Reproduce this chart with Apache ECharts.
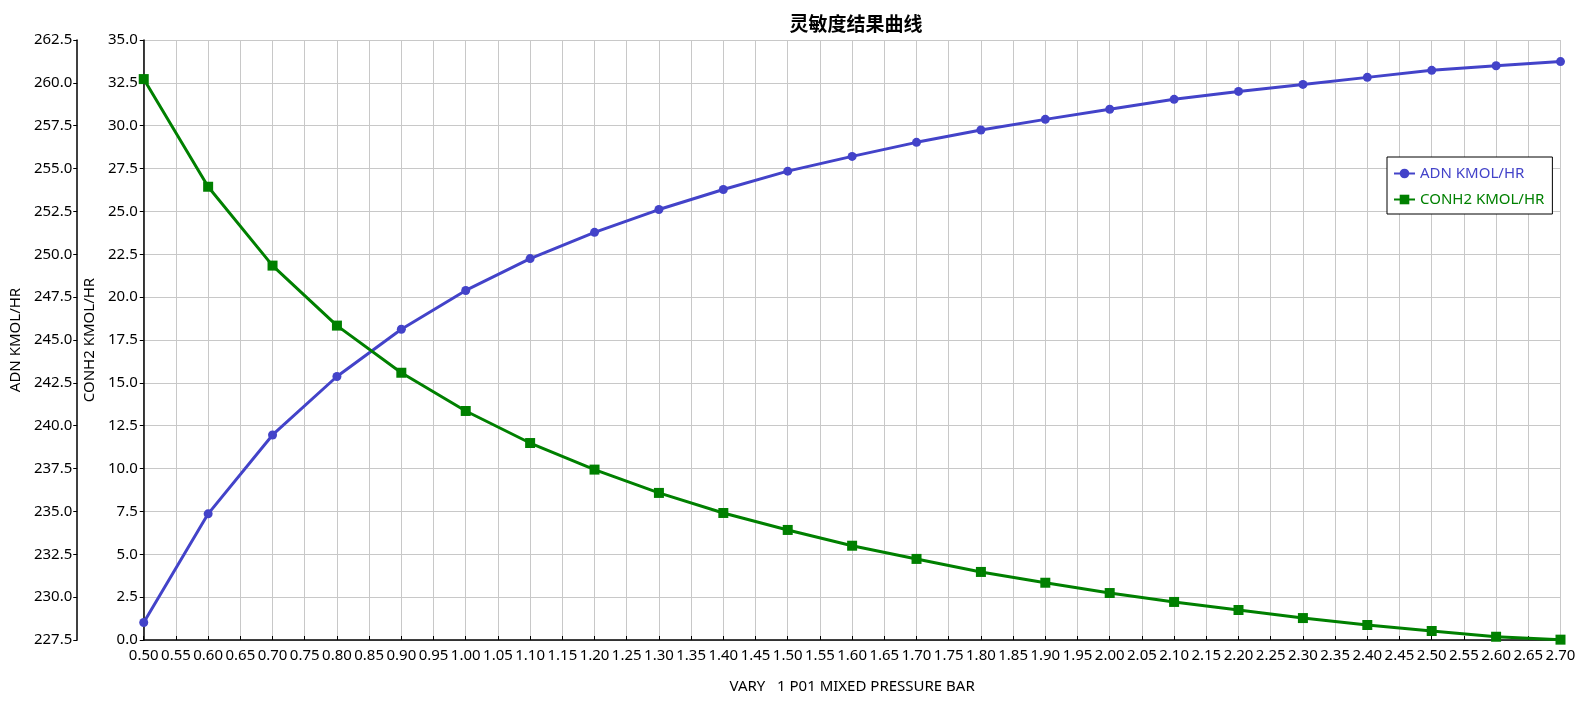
<!DOCTYPE html>
<html>
<head>
<meta charset="utf-8">
<script src="https://cdn.jsdelivr.net/npm/echarts@6/dist/echarts.min.js"></script>
<style>
html,body{margin:0;padding:0;background:#fff;}
#chart{width:1583px;height:708px;}
</style>
</head>
<body>
<div id="chart"></div>
<script>
var titleText = '灵敏度结果曲线';
var xName = 'VARY   1 P01 MIXED PRESSURE BAR';
var adnName = 'ADN KMOL/HR';
var conh2Name = 'CONH2 KMOL/HR';
var pressure = [0.5,0.6,0.7,0.8,0.9,1.0,1.1,1.2,1.3,1.4,1.5,1.6,1.7,1.8,1.9,2.0,2.1,2.2,2.3,2.4,2.5,2.6,2.7];
var adnValues = [228.52,234.86,239.46,242.87,245.63,247.89,249.75,251.28,252.61,253.78,254.85,255.71,256.53,257.25,257.87,258.46,259.04,259.50,259.91,260.32,260.73,261.00,261.24];
var conh2Values = [32.72,26.44,21.84,18.34,15.59,13.36,11.49,9.94,8.58,7.41,6.42,5.50,4.73,3.97,3.34,2.74,2.22,1.75,1.28,0.875,0.525,0.19,0.02];
var xMin = 0.5, xMax = 2.7, xStep = 0.05;
var conh2Min = 0, conh2Max = 35, yStep = 2.5;
var adnMin = 227.5, adnMax = 262.5;

var adnColor = '#4343c9';
var conh2Color = '#008000';
var font = 'Noto Sans';
var fs = 15;

function pairs(xs, ys){ return xs.map(function(x,i){ return [x, ys[i]]; }); }

var chart = echarts.init(document.getElementById('chart'));
chart.setOption({
  backgroundColor: '#ffffff',
  animation: false,
  textStyle: { fontFamily: font },
  title: {
    text: titleText,
    left: 851, top: 9, textAlign: 'center',
    textStyle: { fontFamily: 'Noto Sans CJK SC', fontSize: 19, fontWeight: 'bold', color: '#000' }
  },
  legend: {
    orient: 'vertical',
    left: 1387, top: 157,
    padding: [9, 8, 7, 6],
    itemWidth: 21, itemHeight: 12, itemGap: 11,
    backgroundColor: '#fff',
    borderColor: '#000', borderWidth: 1,
    textStyle: { fontFamily: font, fontSize: fs },
    data: [
      { name: adnName, textStyle: { color: adnColor } },
      { name: conh2Name, textStyle: { color: conh2Color } }
    ]
  },
  grid: { left: 142.5, right: 22.5, top: 40, bottom: 68, containLabel: false },
  xAxis: {
    type: 'value', min: xMin, max: xMax, interval: xStep,
    name: xName, nameLocation: 'middle', nameGap: 39,
    nameTextStyle: { fontFamily: font, fontSize: fs, color: '#000' },
    axisLine: { onZero: false, lineStyle: { color: '#000', width: 1.5 } },
    axisTick: { show: true, inside: true, length: 4, lineStyle: { color: '#000' } },
    axisLabel: { margin: 8, fontSize: fs, color: '#000', fontFamily: font,
      formatter: function(v){ return v.toFixed(2); } },
    splitLine: { show: true, lineStyle: { color: '#c8c8c8', width: 1 } }
  },
  yAxis: [
    {
      type: 'value', min: conh2Min, max: conh2Max, interval: yStep, position: 'left',
      name: conh2Name, nameLocation: 'middle', nameGap: 37, nameRotate: 90,
      nameTextStyle: { fontFamily: font, fontSize: fs, color: '#000' },
      axisLine: { show: true, onZero: false, lineStyle: { color: '#000', width: 1.5 } },
      axisTick: { show: true, length: 4, lineStyle: { color: '#000' } },
      axisLabel: { margin: 6, fontSize: fs, color: '#000', fontFamily: font,
        formatter: function(v){ return v.toFixed(1); } },
      splitLine: { show: true, lineStyle: { color: '#c8c8c8', width: 1 } }
    },
    {
      type: 'value', min: adnMin, max: adnMax, interval: yStep, position: 'left', offset: 66.5,
      name: adnName, nameLocation: 'middle', nameGap: 43, nameRotate: 90,
      nameTextStyle: { fontFamily: font, fontSize: fs, color: '#000' },
      axisLine: { show: true, onZero: false, lineStyle: { color: '#000', width: 1.5 } },
      axisTick: { show: true, length: 4, lineStyle: { color: '#000' } },
      axisLabel: { margin: 5, fontSize: fs, color: '#000', fontFamily: font,
        formatter: function(v){ return v.toFixed(1); } },
      splitLine: { show: false }
    }
  ],
  series: [
    {
      name: adnName, type: 'line', yAxisIndex: 1,
      data: pairs(pressure, adnValues),
      symbol: 'circle', symbolSize: 9,
      lineStyle: { color: adnColor, width: 3 },
      itemStyle: { color: adnColor },
      z: 3
    },
    {
      name: conh2Name, type: 'line', yAxisIndex: 0,
      data: pairs(pressure, conh2Values),
      symbol: 'rect', symbolSize: 10,
      lineStyle: { color: conh2Color, width: 3 },
      itemStyle: { color: conh2Color },
      z: 3
    }
  ]
});
</script>
</body>
</html>
